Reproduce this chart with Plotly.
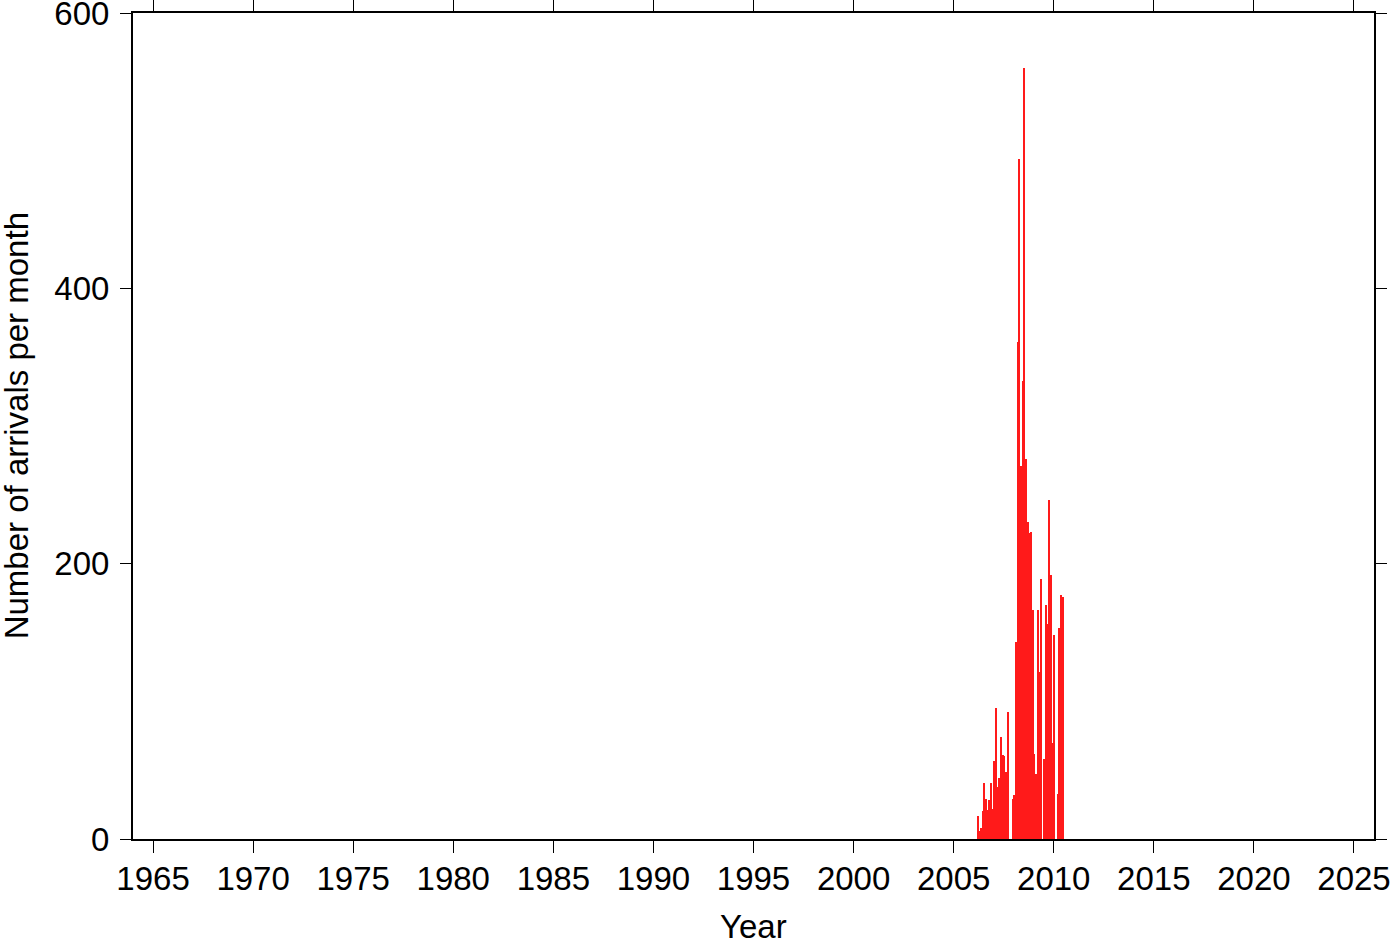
import plotly.graph_objects as go

# Monthly arrival counts, starting March 2006
start_year = 2006
start_month = 3
counts = [17, 6, 8, 20, 41, 29, 21, 28, 41, 22,
          57, 95, 38, 44, 74, 61, 60, 49, 92, 0,
          0, 29, 32, 143, 361, 494, 271, 333, 560, 276,
          230, 222, 223, 166, 62, 47, 166, 121, 189, 0,
          58, 170, 156, 246, 192, 70, 148, 0, 33, 153,
          177, 176]

x_ticks = [1965, 1970, 1975, 1980, 1985, 1990, 1995, 2000, 2005, 2010, 2015, 2020, 2025]
y_ticks = [0, 200, 400, 600]
x_title = "Year"
y_title = "Number of arrivals per month"

# decimal year at the centre of each month
xs = []
for i in range(len(counts)):
    m = start_month - 1 + i
    y = start_year + m // 12
    mm = m % 12
    xs.append(y + (mm + 0.5) / 12.0)

fig = go.Figure()
fig.add_trace(go.Bar(x=xs, y=counts, width=0.075,
                     marker=dict(color="#ff1a1a", line=dict(width=0))))

font = dict(family="Liberation Sans, Arial, sans-serif", size=33, color="black")

fig.update_layout(
    width=1400, height=942, autosize=False,
    margin=dict(l=133, r=26, t=13, b=103, pad=0),
    paper_bgcolor="white", plot_bgcolor="white",
    font=font, showlegend=False, bargap=0,
    xaxis=dict(range=[1964, 2026], tickmode="array", tickvals=x_ticks,
               ticktext=[str(v) for v in x_ticks], automargin=False,
               ticklabeloverflow="allow", ticklabelstandoff=-3,
               showline=True, linecolor="black", linewidth=2, mirror="ticks",
               ticks="outside", ticklen=12, tickwidth=1, tickcolor="black",
               showgrid=False, zeroline=False),
    yaxis=dict(range=[0, 600], tickmode="array", tickvals=y_ticks,
               ticktext=[str(v) for v in y_ticks], automargin=False,
               ticklabeloverflow="allow", ticklabelstandoff=4,
               showline=True, linecolor="black", linewidth=2, mirror="ticks",
               ticks="outside", ticklen=11, tickwidth=1, tickcolor="black",
               showgrid=False, zeroline=False),
    annotations=[
        dict(text=x_title, xref="paper", yref="paper", x=0.5, y=-0.1062,
             xanchor="center", yanchor="middle", showarrow=False, font=font),
        dict(text=y_title, xref="paper", yref="paper", x=-0.0940, y=0.5,
             xanchor="center", yanchor="middle", textangle=-90,
             showarrow=False, font=font),
    ],
)

fig.write_html("out.html", config={"displayModeBar": False},
               post_script="document.body.style.margin='0';document.body.style.padding='0';")
